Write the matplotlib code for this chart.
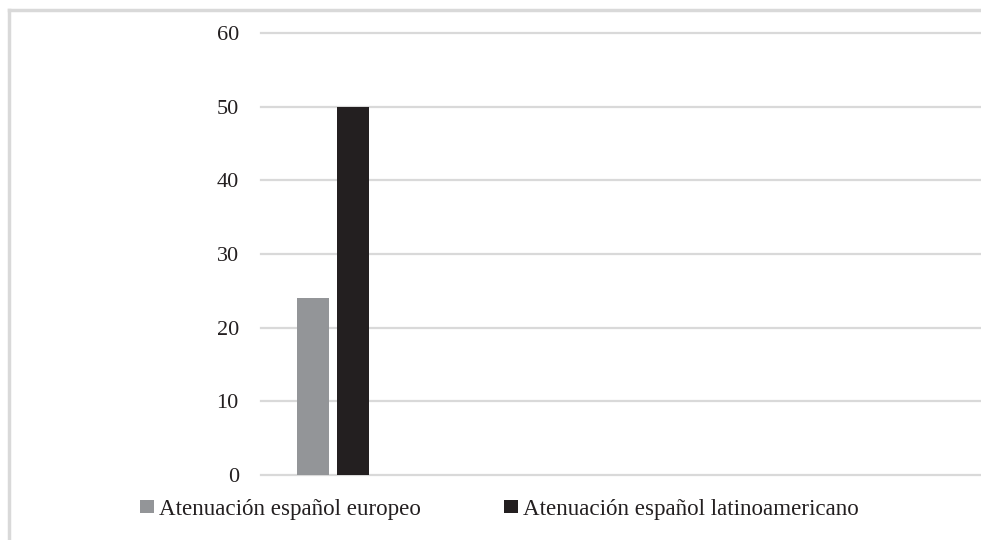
import matplotlib
matplotlib.use("Agg")
import matplotlib.pyplot as plt
from matplotlib.lines import Line2D

plt.rcParams['font.family'] = ['Liberation Serif', 'DejaVu Serif']

# data
categories = [""]
series_names = ["Atenuación español europeo", "Atenuación español latinoamericano"]
europeo = [24]
latino = [50]
y_ticks = [0, 10, 20, 30, 40, 50, 60]

colors = ["#939598", "#231f20"]
grid_col = "#d9d9d9"
fs = 16
leg_fs = 16.6

W, H = 981, 540
fig = plt.figure(figsize=(W / 100, H / 100), dpi=100)
ax = fig.add_axes([261 / W, 1 - 475 / H, 1 - 261 / W, (475 - 33) / H])

x = list(range(len(categories)))
bw = 0.222
off = 0.139
b1 = ax.bar([i - off for i in x], europeo, width=bw, color=colors[0], zorder=3)
b2 = ax.bar([i + off for i in x], latino, width=bw, color=colors[1], zorder=3)

ax.set_xlim(-0.5, 4.5)
ax.set_ylim(0, 60)
ax.set_yticks(y_ticks)
ax.set_yticklabels([str(t) for t in y_ticks], fontsize=fs, color="#231f20")
ax.set_xticks([])
ax.tick_params(axis='y', length=0, pad=16)
for s in ax.spines.values():
    s.set_visible(False)
for t in y_ticks:
    ax.axhline(t, color=grid_col, lw=1.6, zorder=1, clip_on=False)

# outer frame, only left and top edges visible
fig.add_artist(Line2D([8.5 / W, 8.5 / W], [0, 1 - 9.5 / H], color=grid_col, lw=2.5))
fig.add_artist(Line2D([8.5 / W, 1], [1 - 9.5 / H, 1 - 9.5 / H], color=grid_col, lw=2.5))

px = leg_fs * 100 / 72
fig.legend([b1, b2], series_names, loc='center left',
           bbox_to_anchor=(140 / W, 1 - 509 / H), ncol=2, frameon=False,
           fontsize=leg_fs, handlelength=14 / px, handleheight=12 / px,
           handletextpad=5 / px, columnspacing=83 / px, borderpad=0, borderaxespad=0,
           labelcolor="#231f20")

fig.savefig("out.png", dpi=100, facecolor="white")
